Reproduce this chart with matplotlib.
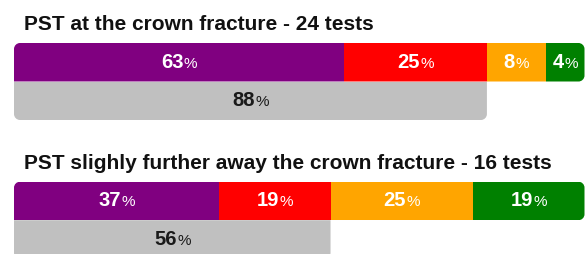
import numpy as np
import matplotlib
matplotlib.use('Agg')
import matplotlib.pyplot as plt
from matplotlib.path import Path
from matplotlib.offsetbox import TextArea, HPacker, AnnotationBbox

plt.rcParams['font.family'] = ['Liberation Sans', 'DejaVu Sans']

# data
titles = ['PST at the crown fracture - 24 tests',
          'PST slighly further away the crown fracture - 16 tests']
seg_colors = ['#800080', '#ff0000', '#ffa500', '#008000']
counts_1 = [15, 6, 2, 1]
counts_2 = [6, 3, 4, 3]
labels_1 = ['63', '25', '8', '4']
labels_2 = ['37', '19', '25', '19']
grey_counts = [21, 9]
grey_labels = ['88', '56']
grey_color = '#c0c0c0'

PAD = 3.5      # every segment gets a bit of extra room for its label
RADIUS = 6     # px
W, H = 585, 255
K = 0.5523


def edges(counts):
    share = np.array(counts) / sum(counts) * 100 + PAD
    return np.concatenate([[0], np.cumsum(share)])


def rounded(x0, x1, y0, y1, rx, ry, tl, tr, br, bl):
    # y0 = top edge, y1 = bottom edge (y axis inverted)
    verts = [(x0 + rx * tl, y0)]
    codes = [Path.MOVETO]

    def line(p):
        verts.append(p)
        codes.append(Path.LINETO)

    def corner(p0, c, p3):
        verts.extend([(p0[0] + K * (c[0] - p0[0]), p0[1] + K * (c[1] - p0[1])),
                      (p3[0] + K * (c[0] - p3[0]), p3[1] + K * (c[1] - p3[1])), p3])
        codes.extend([Path.CURVE4] * 3)

    line((x1 - rx * tr, y0))
    if tr:
        corner((x1 - rx, y0), (x1, y0), (x1, y0 + ry))
    line((x1, y1 - ry * br))
    if br:
        corner((x1, y1 - ry), (x1, y1), (x1 - rx, y1))
    line((x0 + rx * bl, y1))
    if bl:
        corner((x0 + rx, y1), (x0, y1), (x0, y1 - ry))
    line((x0, y0 + ry * tl))
    if tl:
        corner((x0, y0 + ry), (x0, y0), (x0 + rx, y0))
    verts.append(verts[0])
    codes.append(Path.CLOSEPOLY)
    return Path(verts, codes)


def label(ax, x, y, num, color):
    a = TextArea(num, textprops=dict(color=color, fontsize=14.5, fontweight='bold'))
    b = TextArea('%', textprops=dict(color=color, fontsize=11))
    box = HPacker(children=[a, b], align='baseline', pad=0, sep=0.5)
    ab = AnnotationBbox(box, (x, y), frameon=False, box_alignment=(0.5, 0.45),
                        xycoords='data', pad=0)
    ax.add_artist(ab)


fig = plt.figure(figsize=(W / 100, H / 100), dpi=100)

ax_left, ax_w = 14, 570.5
row_h = 38.5
panels = [(44, counts_1, labels_1), (182.7, counts_2, labels_2)]

for i, (top, counts, labels) in enumerate(panels):
    ax = fig.add_axes([ax_left / W, 1 - (top + 2 * row_h) / H, ax_w / W, 2 * row_h / H])
    ed = edges(counts)
    xmax = ed[-1]
    ax.set_xlim(0, xmax)
    ax.set_ylim(1.5, -0.5)
    ax.axis('off')
    rx = RADIUS * xmax / ax_w
    ry = RADIUS * 2 / (2 * row_h)

    bars = ax.barh(0, np.diff(ed), left=ed[:-1], height=1, color=seg_colors, linewidth=0)
    clip = rounded(0, xmax, -0.5, 0.5, rx, ry, True, True, True, False)
    for b in bars:
        b.set_clip_path(clip, ax.transData)

    gx = np.interp(grey_counts[i], np.concatenate([[0], np.cumsum(counts)]), ed)
    gbar = ax.barh(1, gx, left=0, height=1, color=grey_color, linewidth=0)
    gclip = rounded(0, gx, 0.5, 1.5, rx, ry, False, False, True, True)
    gbar[0].set_clip_path(gclip, ax.transData)

    for j, lab in enumerate(labels):
        label(ax, (ed[j] + ed[j + 1]) / 2, 0, lab, 'white')
    label(ax, gx / 2, 1, grey_labels[i], '#1a1a1a')

fig.text(24 / W, 1 - 30 / H, titles[0], fontsize=15, fontweight='bold', va='baseline', color='#111111')
fig.text(24 / W, 1 - 169 / H, titles[1], fontsize=15, fontweight='bold', va='baseline', color='#111111')

fig.savefig('out.png', dpi=100)
